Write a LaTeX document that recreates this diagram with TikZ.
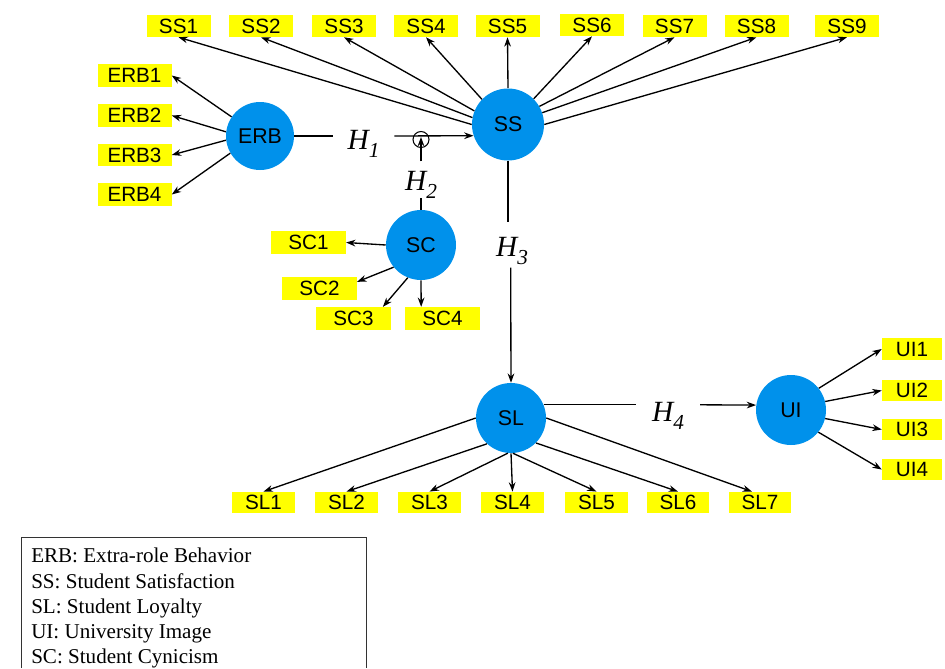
\documentclass[tikz,border=0pt]{standalone}
\usepackage{fontspec}
\setmainfont{Liberation Serif}
\setsansfont{Liberation Sans}
\usetikzlibrary{arrows.meta,calc}
\definecolor{latent}{RGB}{0,145,235}
\definecolor{indic}{RGB}{255,255,0}
% hypothesis label: italic H with a large lowered index
\newcommand{\hyp}[1]{{\fontsize{22}{22}\selectfont\itshape H\raisebox{-6pt}{\fontsize{16}{16}\selectfont #1}}}

\begin{document}
\begin{tikzpicture}[x=0.75pt,y=-0.75pt,
  latentvar/.style={circle,fill=latent,minimum size=#1,inner sep=0pt,
    font=\sffamily\fontsize{16}{16}\selectfont},
  ind/.style args={#1x#2}{fill=indic,inner sep=0pt,minimum width=#1,minimum height=#2,
    font=\sffamily\fontsize{15.5}{15.5}\selectfont},
  arr/.style={-{Stealth[length=7pt,width=5pt]},line width=1pt},
  link/.style={line width=1pt},
  hlab/.style={inner xsep=11pt,inner ysep=0pt},
  legendtxt/.style={anchor=base west,inner sep=0pt,font=\fontsize{15.8}{15.8}\selectfont}]

\useasboundingbox (0,0) rectangle (945,668);

% latent variables
\node[latentvar=51pt]   (ERB) at (260,136)   {ERB};
\node[latentvar=54pt]   (SS)  at (508,124.5) {SS};
\node[latentvar=52.5pt] (SC)  at (421,245)   {SC};
\node[latentvar=52.5pt] (SL)  at (511,418)   {SL};
\node[latentvar=52.5pt] (UI)  at (791,410)   {UI};

% SS indicators
\node[ind=48pt x 16.5pt] (SS1) at (178.5,26) {SS1};
\node[ind=48pt x 16.5pt] (SS2) at (261,26)   {SS2};
\node[ind=48pt x 16.5pt] (SS3) at (344,26)   {SS3};
\node[ind=48pt x 16.5pt] (SS4) at (426,26)   {SS4};
\node[ind=48pt x 16.5pt] (SS5) at (507.5,26) {SS5};
\node[ind=48pt x 16.5pt] (SS6) at (592,25)   {SS6};
\node[ind=48pt x 16.5pt] (SS7) at (674.5,26) {SS7};
\node[ind=48pt x 16.5pt] (SS8) at (756.5,26) {SS8};
\node[ind=48pt x 16.5pt] (SS9) at (847,26)   {SS9};

% ERB indicators
\node[ind=55.5pt x 17pt] (ERB1) at (134.5,75.5)  {ERB1};
\node[ind=55.5pt x 17pt] (ERB2) at (134.5,115.5) {ERB2};
\node[ind=55.5pt x 17pt] (ERB3) at (134.5,155)   {ERB3};
\node[ind=55.5pt x 17pt] (ERB4) at (134.5,194.5) {ERB4};

% SC indicators
\node[ind=56pt x 17pt] (SC1) at (308.5,242.5) {SC1};
\node[ind=56pt x 17pt] (SC2) at (319.5,288.5) {SC2};
\node[ind=56pt x 17pt] (SC3) at (353.5,318.5) {SC3};
\node[ind=56pt x 17pt] (SC4) at (442.5,318.5) {SC4};

% SL indicators
\node[ind=47pt x 16pt] (SL1) at (263.5,502.5) {SL1};
\node[ind=47pt x 16pt] (SL2) at (346.5,502.5) {SL2};
\node[ind=47pt x 16pt] (SL3) at (429.5,502.5) {SL3};
\node[ind=47pt x 16pt] (SL4) at (512.5,502.5) {SL4};
\node[ind=47pt x 16pt] (SL5) at (596.5,502.5) {SL5};
\node[ind=47pt x 16pt] (SL6) at (678,502.5)   {SL6};
\node[ind=47pt x 16pt] (SL7) at (760,502.5)   {SL7};

% UI indicators
\node[ind=45pt x 16pt] (UI1) at (912,349)   {UI1};
\node[ind=45pt x 16pt] (UI2) at (912,390.5) {UI2};
\node[ind=45pt x 16pt] (UI3) at (912,429.5) {UI3};
\node[ind=45pt x 16pt] (UI4) at (912,469.5) {UI4};

% outer loadings
\draw[arr] (SS.180) -- (SS1.south);
\draw[arr] (SS.169) -- (SS2.south);
\draw[arr] (SS.158) -- (SS3.south);
\draw[arr] (SS.136) -- (SS4.south);
\draw[arr] (SS.90)  -- (SS5.south);
\draw[arr] (SS.45)  -- (SS6.south);
\draw[arr] (SS.30)  -- (SS7.south);
\draw[arr] (SS.19)  -- (SS8.south);
\draw[arr] (SS.0)   -- (SS9.south);

\draw[arr] (ERB.146) -- (ERB1.east);
\draw[arr] (ERB.173) -- (ERB2.east);
\draw[arr] (ERB.187) -- (ERB3.east);
\draw[arr] (ERB.210) -- (ERB4.east);

\draw[arr] (SC.180) -- (SC1.east);
\draw[arr] (SC.219) -- ([yshift=5pt]SC2.east);
\draw[arr] (SC.248) -- ([xshift=22pt]SC3.north);
\draw[arr] (SC.270) -- ([xshift=-16pt]SC4.north);

\draw[arr] (SL.180) -- (SL1.north);
\draw[arr] (SL.227) -- (SL2.north);
\draw[arr] (SL.265) -- (SL3.north);
\draw[arr] (SL.270) -- (SL4.north);
\draw[arr] (SL.273) -- (SL5.north);
\draw[arr] (SL.315) -- (SL6.north);
\draw[arr] (SL.0)   -- ([xshift=-6pt]SL7.north);

\draw[arr] (UI.38)  -- (UI1.west);
\draw[arr] (UI.14)  -- (UI2.west);
\draw[arr] (UI.-14) -- (UI3.west);
\draw[arr] (UI.-39) -- (UI4.west);

% hypotheses
\node[hlab] (H1) at (363.5,144)   {\hyp{1}};
\node[hlab] (H2) at (421,184.5)   {\hyp{2}};
\node[hlab] (H3) at (512,251)     {\hyp{3}};
\node[hlab,inner xsep=12pt] (H4) at (668,415.5) {\hyp{4}};
\node[draw,circle,minimum size=12pt,inner sep=0pt,line width=0.8pt] (M) at (421,139.5) {};

\draw[link] (ERB.east) -- (ERB.east -| H1.west);
\draw[arr] (H1.east |- ERB.east) -- (SS.198);

\draw[link] (SC.north) -- (H2.south);
\draw[arr] ([yshift=7pt]H2.north) -- ([yshift=1.9pt]M.center);

\draw[link] (SS.south) -- ([xshift=-3pt,yshift=11pt]H3.north);
\draw[arr] ([xshift=-1pt,yshift=-2pt]H3.south) -- (SL.north);

\draw[link] (SL.22) -- (SL.22 -| H4.west);
\draw[arr] (H4.east |- SL.22) -- (UI.172);

% legend
\draw[line width=0.6pt,black!80] (21,668) -- (21,537) -- (366,537) -- (366,668);
\node[legendtxt] (leg1) at (31,562) {ERB: Extra-role Behavior};
\node[legendtxt] (leg2) at (31,588) {SS: Student Satisfaction};
\node[legendtxt] (leg3) at (31,613) {SL: Student Loyalty};
\node[legendtxt] (leg4) at (31,638.5) {UI: University Image};
\node[legendtxt] (leg5) at (31,663.5) {SC: Student Cynicism};
\end{tikzpicture}
\end{document}
